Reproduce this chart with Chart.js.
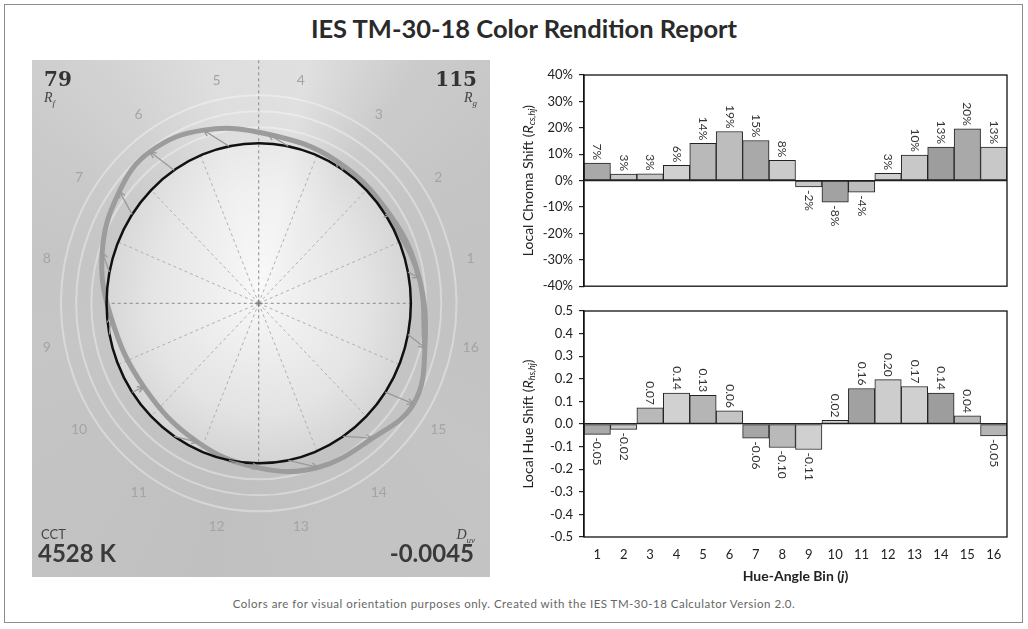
<!DOCTYPE html>
<html>
<head>
<meta charset="utf-8">
<script src="https://cdn.jsdelivr.net/npm/chart.js@4.4.0/dist/chart.umd.min.js"></script>
<style>
  body { margin: 0; width: 1028px; height: 629px; background: #fff; position: relative; overflow: hidden; font-family: Lato, 'Open Sans', sans-serif; color: #222; }
  .frame { position: absolute; left: 4px; top: 4px; width: 1019px; height: 619px; border: 1px solid #8c8c8c; box-sizing: border-box; }
  .title { position: absolute; left: 10px; top: 13px; width: 1028px; text-align: center; font-size: 25.5px; font-weight: bold; color: #2a2a2a; }
  .footer { position: absolute; left: 0; top: 597px; width: 1028px; text-align: center; font-size: 11.5px; letter-spacing: 0.5px; color: #666; }
  canvas { position: absolute; }
  #cvg { left: 32px; top: 60px; }
  #chroma { left: 500px; top: 60px; }
  #hue { left: 500px; top: 296px; }
  .corner { position: absolute; color: #333; line-height: 1; }
  .big { font-family: 'DejaVu Serif', 'Liberation Serif', serif; font-weight: bold; font-size: 20px; }
  .bigsans { font-weight: bold; font-size: 24px; color: #3a3a3a; }
  .sym { font-family: 'Liberation Serif', serif; font-style: italic; font-size: 14px; color: #444; }
  .sym sub { font-size: 9px; }
  .small { font-size: 13px; color: #444; }
</style>
</head>
<body>
<div class="frame"></div>
<div class="title">IES TM-30-18 Color Rendition Report</div>

<canvas id="cvg" width="458" height="517"></canvas>
<canvas id="chroma" width="520" height="240"></canvas>
<canvas id="hue" width="520" height="300"></canvas>

<div class="corner big" style="left:44px; top:69px;">79</div>
<div class="corner sym" style="left:44px; top:91px;">R<sub>f</sub></div>
<div class="corner big" style="right:551px; top:69px;">115</div>
<div class="corner sym" style="right:551px; top:91px;">R<sub>g</sub></div>
<div class="corner small" style="left:41px; top:528px;">CCT</div>
<div class="corner bigsans" style="left:38px; top:541px;">4528 K</div>
<div class="corner sym" style="right:553px; top:528px;">D<sub>uv</sub></div>
<div class="corner bigsans" style="right:554px; top:541px;">-0.0045</div>

<div class="footer">Colors are for visual orientation purposes only. Created with the IES TM-30-18 Calculator Version 2.0.</div>

<script>
// hue-angle bins
const bins = ['1','2','3','4','5','6','7','8','9','10','11','12','13','14','15','16'];
// local chroma shift Rcs,hj (fraction)
const chromaShift = [0.066, 0.025, 0.026, 0.058, 0.141, 0.186, 0.152, 0.077, -0.024, -0.082, -0.044, 0.028, 0.097, 0.127, 0.196, 0.127];
// local hue shift Rhs,hj
const hueShift = [-0.046, -0.024, 0.071, 0.137, 0.127, 0.058, -0.063, -0.104, -0.113, 0.016, 0.157, 0.196, 0.166, 0.137, 0.036, -0.053];
const chromaTicks = [-0.4, -0.3, -0.2, -0.1, 0, 0.1, 0.2, 0.3, 0.4];
const hueTicks = [-0.5, -0.4, -0.3, -0.2, -0.1, 0, 0.1, 0.2, 0.3, 0.4, 0.5];

// grey shades of the (scanned) bin colours
const chromaFill = ['#a9a9a9','#c9c9c9','#c5c5c5','#d0d0d0','#b9b9b9','#bdbdbd','#a9a9a9','#cbcbcb','#c8c8c8','#a2a2a2','#bdbdbd','#cfcfcf','#c8c8c8','#9d9d9d','#a9a9a9','#c8c8c8'];
const hueFill = ['#a9a9a9','#c9c9c9','#b9b9b9','#d1d1d1','#b5b5b5','#c5c5c5','#a5a5a5','#b9b9b9','#d0d0d0','#d3d3d3','#a1a1a1','#cdcdcd','#d0d0d0','#9d9d9d','#b9b9b9','#b5b5b5'];
const bgGrey = ['#c3c3c3','#c5c5c5','#cbcbcb','#e0e0e0','#dedede','#d2d2d2','#c9c9c9','#c5c5c5','#c6c6c6','#c4c4c4','#c2c2c2','#c0c0c0','#c2c2c2','#c3c3c3','#c5c5c5','#c3c3c3'];

const binAngle = i => (i + 0.5) * Math.PI / 8;

// test vector graphic: reference at unit radius, test shifted by chroma and hue
const testPts = bins.map((b, i) => {
  const r = 1 + chromaShift[i];
  const a = binAngle(i) + hueShift[i];
  return { x: r * Math.cos(a), y: r * Math.sin(a) };
});
const n = testPts.length;
const loopPts = [testPts[n - 1], ...testPts, testPts[0], testPts[1]];

const cvgBackground = {
  id: 'cvgBackground',
  beforeDatasetsDraw(chart) {
    const { ctx, chartArea: ca, scales: { x, y } } = chart;
    const cx = x.getPixelForValue(0), cy = y.getPixelForValue(0);
    const rx = x.getPixelForValue(1) - cx, ry = cy - y.getPixelForValue(1);
    ctx.save();
    const cg = ctx.createConicGradient(0, cx, cy);
    bins.forEach((b, i) => {
      cg.addColorStop(1 - (i + 0.5) / 16, bgGrey[i]);
    });
    cg.addColorStop(0, '#c3c3c3');
    cg.addColorStop(1, '#c3c3c3');
    ctx.fillStyle = cg;
    ctx.fillRect(ca.left, ca.top, ca.width, ca.height);

    // faint rings outside the reference circle
    [1.1, 1.2, 1.3].forEach(k => {
      ctx.strokeStyle = 'rgba(255,255,255,0.35)';
      ctx.lineWidth = 2;
      ctx.beginPath();
      ctx.ellipse(cx, cy, rx * k, ry * k, 0, 0, Math.PI * 2);
      ctx.stroke();
    });

    // pale interior
    ctx.save();
    ctx.translate(cx, cy);
    ctx.scale(1, ry / rx);
    const rg = ctx.createRadialGradient(0, 0, 0, 0, 0, rx);
    rg.addColorStop(0, 'rgba(255,255,255,0.85)');
    rg.addColorStop(0.7, 'rgba(255,255,255,0.55)');
    rg.addColorStop(1, 'rgba(255,255,255,0.3)');
    ctx.fillStyle = rg;
    ctx.beginPath();
    ctx.arc(0, 0, rx, 0, Math.PI * 2);
    ctx.fill();
    ctx.restore();

    // bin boundary rays
    ctx.setLineDash([3, 3]);
    for (let k = 0; k < 16; k++) {
      const a = k * Math.PI / 8;
      const axis = k % 4 === 0;
      ctx.strokeStyle = axis ? '#8a8a8a' : '#b0b0b0';
      ctx.lineWidth = 1;
      ctx.beginPath();
      ctx.moveTo(cx, cy);
      const reach = k === 4 ? (cy - ca.top) / ry : 1;
      ctx.lineTo(cx + rx * reach * Math.cos(a), cy - ry * reach * Math.sin(a));
      ctx.stroke();
    }
    ctx.setLineDash([]);
    ctx.strokeStyle = '#777';
    ctx.beginPath();
    ctx.moveTo(cx - 4, cy); ctx.lineTo(cx + 4, cy);
    ctx.moveTo(cx, cy - 4); ctx.lineTo(cx, cy + 4);
    ctx.stroke();

    // bin numbers
    ctx.fillStyle = '#a4a4a4';
    ctx.font = '14px Lato, sans-serif';
    ctx.textAlign = 'center';
    ctx.textBaseline = 'middle';
    bins.forEach((b, i) => {
      const a = binAngle(i);
      ctx.fillText(b, cx + rx * 1.42 * Math.cos(a), cy - ry * 1.42 * Math.sin(a));
    });
    ctx.restore();
  },
  afterDatasetsDraw(chart) {
    const { ctx, scales: { x, y } } = chart;
    const cx = x.getPixelForValue(0), cy = y.getPixelForValue(0);
    const rx = x.getPixelForValue(1) - cx, ry = cy - y.getPixelForValue(1);
    ctx.save();
    ctx.strokeStyle = '#111';
    ctx.lineWidth = 2.5;
    ctx.beginPath();
    ctx.ellipse(cx, cy, rx, ry, 0, 0, Math.PI * 2);
    ctx.stroke();

    // arrows from reference to test
    ctx.strokeStyle = '#999';
    ctx.lineWidth = 1.3;
    testPts.forEach((p, i) => {
      const a = binAngle(i);
      const x0 = x.getPixelForValue(Math.cos(a)), y0 = y.getPixelForValue(Math.sin(a));
      const x1 = x.getPixelForValue(p.x), y1 = y.getPixelForValue(p.y);
      const len = Math.hypot(x1 - x0, y1 - y0);
      if (len < 3) return;
      const ang = Math.atan2(y1 - y0, x1 - x0);
      ctx.beginPath();
      ctx.moveTo(x0, y0); ctx.lineTo(x1, y1);
      ctx.moveTo(x1, y1); ctx.lineTo(x1 - 7 * Math.cos(ang - 0.45), y1 - 7 * Math.sin(ang - 0.45));
      ctx.moveTo(x1, y1); ctx.lineTo(x1 - 7 * Math.cos(ang + 0.45), y1 - 7 * Math.sin(ang + 0.45));
      ctx.stroke();
    });
    ctx.restore();
  }
};

new Chart(document.getElementById('cvg'), {
  type: 'scatter',
  data: {
    datasets: [{
      data: loopPts,
      showLine: true,
      tension: 0.4,
      borderColor: '#9c9c9c',
      borderWidth: 5,
      pointRadius: 0,
    }, {
      data: loopPts,
      showLine: true,
      tension: 0.4,
      borderColor: '#cdcdcd',
      borderWidth: 2,
      pointRadius: 0,
    }],
  },
  options: {
    responsive: false,
    animation: false,
    devicePixelRatio: 1,
    layout: { padding: 0 },
    plugins: { legend: { display: false }, tooltip: { enabled: false } },
    scales: {
      x: { type: 'linear', display: false, min: -1.49, max: 1.52 },
      y: { type: 'linear', display: false, min: -1.71, max: 1.52 },
    },
  },
  plugins: [cvgBackground],
});

// bar value labels, rotated like the report
const barLabels = {
  id: 'barLabels',
  afterDatasetsDraw(chart, args, opts) {
    const { ctx } = chart;
    const meta = chart.getDatasetMeta(0);
    const vals = chart.data.datasets[0].data;
    ctx.save();
    ctx.fillStyle = '#333';
    ctx.font = '12px Lato, sans-serif';
    ctx.textBaseline = 'middle';
    meta.data.forEach((bar, i) => {
      const v = vals[i];
      ctx.save();
      ctx.translate(bar.x, v >= 0 ? bar.y - 3 : bar.y + 3);
      ctx.rotate(Math.PI / 2);
      ctx.textAlign = v >= 0 ? 'right' : 'left';
      ctx.fillText(opts.format(v), 0, 0);
      ctx.restore();
    });
    ctx.restore();
  }
};

// plot frame plus axis titles with italic / subscript parts
const frameTitles = {
  id: 'frameTitles',
  afterDraw(chart, args, opts) {
    const { ctx, chartArea: ca } = chart;
    ctx.save();
    ctx.strokeStyle = '#111';
    ctx.lineWidth = 1.3;
    ctx.strokeRect(ca.left, ca.top, ca.width, ca.height);

    const drawParts = (parts) => {
      let w = 0;
      parts.forEach(p => { ctx.font = p.font; w += ctx.measureText(p.t).width; });
      let px = -w / 2;
      parts.forEach(p => {
        ctx.font = p.font;
        ctx.fillText(p.t, px, p.dy || 0);
        px += ctx.measureText(p.t).width;
      });
    };
    ctx.fillStyle = '#222';
    ctx.textBaseline = 'middle';
    ctx.textAlign = 'left';
    ctx.save();
    ctx.translate(opts.yTitleX, (ca.top + ca.bottom) / 2);
    ctx.rotate(-Math.PI / 2);
    drawParts(opts.yTitle);
    ctx.restore();
    if (opts.xTitle) {
      ctx.save();
      ctx.translate((ca.left + ca.right) / 2, opts.xTitleY);
      drawParts(opts.xTitle);
      ctx.restore();
    }
    ctx.restore();
  }
};

const f14 = '14px Lato, sans-serif';
const f14i = 'italic 14px Lato, sans-serif';
const f9 = 'italic 9px Lato, sans-serif';

function barOptions(ticks, fmtTick, showX) {
  return {
    responsive: false,
    animation: false,
    devicePixelRatio: 1,
    plugins: { legend: { display: false }, tooltip: { enabled: false } },
    scales: {
      x: {
        display: showX,
        grid: { display: false, drawTicks: false },
        border: { display: false },
        ticks: { color: '#222', font: { family: 'Lato', size: 13 }, padding: 10, maxRotation: 0, autoSkip: false },
        afterFit: s => { s.height = showX ? 59 : 0; },
      },
      y: {
        min: ticks[0],
        max: ticks[ticks.length - 1],
        afterBuildTicks: s => { s.ticks = ticks.map(v => ({ value: v })); },
        ticks: { color: '#222', font: { family: 'Lato', size: 13 }, padding: 6, callback: fmtTick },
        grid: {
          color: c => (c.tick && c.tick.value === 0 ? '#222' : 'rgba(0,0,0,0)'),
          tickColor: '#222',
          tickLength: 5,
          lineWidth: 1.2,
        },
        border: { display: true, color: '#111', width: 1.3 },
        afterFit: s => { s.width = 84; },
      },
    },
  };
}

const chromaOpts = barOptions(chromaTicks, v => Math.round(v * 100) + '%', false);
chromaOpts.layout = { padding: { left: 0, right: 13, top: 15, bottom: 12 } };
chromaOpts.plugins.barLabels = { format: v => Math.round(v * 100) + '%' };
chromaOpts.plugins.frameTitles = {
  yTitleX: 28,
  yTitle: [{ t: 'Local Chroma Shift (', font: f14 }, { t: 'R', font: f14i }, { t: 'cs,hj', font: f9, dy: 4 }, { t: ')', font: f14 }],
};

new Chart(document.getElementById('chroma'), {
  type: 'bar',
  data: {
    labels: bins,
    datasets: [{
      data: chromaShift,
      backgroundColor: chromaFill,
      borderColor: '#222',
      borderWidth: 1,
      borderSkipped: false,
      categoryPercentage: 1,
      barPercentage: 1,
    }],
  },
  options: chromaOpts,
  plugins: [barLabels, frameTitles],
});

const hueOpts = barOptions(hueTicks, v => (Math.round(v * 10) / 10).toFixed(1), true);
hueOpts.layout = { padding: { left: 0, right: 13, top: 15, bottom: 0 } };
hueOpts.plugins.barLabels = { format: v => v.toFixed(2) };
hueOpts.plugins.frameTitles = {
  yTitleX: 28,
  yTitle: [{ t: 'Local Hue Shift (', font: f14 }, { t: 'R', font: f14i }, { t: 'hs,hj', font: f9, dy: 4 }, { t: ')', font: f14 }],
  xTitleY: 280,
  xTitle: [{ t: 'Hue-Angle Bin (', font: 'bold 14px Lato, sans-serif' }, { t: 'j', font: 'bold italic 14px Lato, sans-serif' }, { t: ')', font: 'bold 14px Lato, sans-serif' }],
};

new Chart(document.getElementById('hue'), {
  type: 'bar',
  data: {
    labels: bins,
    datasets: [{
      data: hueShift,
      backgroundColor: hueFill,
      borderColor: '#222',
      borderWidth: 1,
      borderSkipped: false,
      categoryPercentage: 1,
      barPercentage: 1,
    }],
  },
  options: hueOpts,
  plugins: [barLabels, frameTitles],
});
</script>
</body>
</html>
